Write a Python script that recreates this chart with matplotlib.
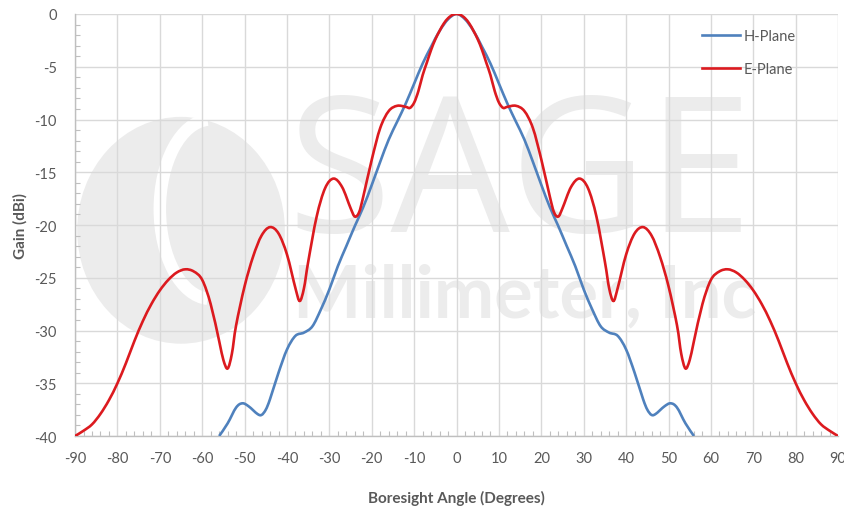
import matplotlib.pyplot as plt
from matplotlib.lines import Line2D
from matplotlib.patches import Arc, Ellipse, PathPatch
from matplotlib.path import Path
from matplotlib.ticker import MultipleLocator

# E-plane pattern (deg, dBi)
e_angle = [-90, -88, -86, -84, -82, -80, -78, -76, -74, -72, -70, -68, -66, -64, -62, -60,
           -58, -56, -55, -54, -53, -52, -50, -48, -46, -44, -42, -40, -38, -37, -36, -35,
           -33, -31, -29, -27, -25, -24, -23, -22, -20, -18, -16, -14, -12, -11, -10, -9,
           -8, -7, -6, -5, -4, -3, -2, -1, 0,
           1, 2, 3, 4, 5, 6, 7, 8, 9, 10, 11, 12, 14, 16, 18, 20, 22, 23, 24, 25, 27,
           29, 31, 33, 35, 36, 37, 38, 40, 42, 44, 46, 48, 50, 52, 53, 54, 55, 56, 58,
           60, 62, 64, 66, 68, 70, 72, 74, 76, 78, 80, 82, 84, 86, 88, 90]
e_gain = [-40.0, -39.5, -38.9, -37.9, -36.6, -35.0, -33.1, -31.0, -29.1, -27.5, -26.2, -25.2,
          -24.5, -24.2, -24.4, -25.2, -27.5, -31.0, -32.8, -33.6, -32.2, -29.5, -25.8, -23.0,
          -21.0, -20.2, -20.8, -22.8, -26.0, -27.2, -26.0, -23.5, -19.2, -16.5, -15.6, -16.4,
          -18.4, -19.2, -18.8, -17.3, -13.8, -10.8, -9.2, -8.7, -8.8, -8.9, -8.4, -7.3,
          -5.8, -4.6, -3.4, -2.4, -1.6, -0.9, -0.4, -0.1, 0.0,
          -0.1, -0.4, -0.9, -1.6, -2.4, -3.4, -4.6, -5.8, -7.3, -8.4, -8.9, -8.8, -8.7,
          -9.2, -10.8, -13.8, -17.3, -18.8, -19.2, -18.4, -16.4, -15.6, -16.5, -19.2,
          -23.5, -26.0, -27.2, -26.0, -22.8, -20.8, -20.2, -21.0, -23.0, -25.8, -29.5,
          -32.2, -33.6, -32.8, -31.0, -27.5, -25.2, -24.4, -24.2, -24.5, -25.2, -26.2,
          -27.5, -29.1, -31.0, -33.1, -35.0, -36.6, -37.9, -38.9, -39.5, -40.0]

# H-plane pattern (deg, dBi)
h_angle = [-56, -54, -52, -50.5, -49, -47, -46, -45, -44, -42, -40, -38, -36, -34, -32, -30,
           -28, -26, -24, -22, -20, -18, -16, -14, -12, -10, -8, -6, -4, -2, 0,
           2, 4, 6, 8, 10, 12, 14, 16, 18, 20, 22, 24, 26, 28, 30, 32, 34, 36, 38, 40,
           42, 44, 45, 46, 47, 49, 50.5, 52, 54, 56]
h_gain = [-40.0, -38.8, -37.3, -36.9, -37.2, -37.9, -38.0, -37.5, -36.5, -34.0, -31.8, -30.5,
          -30.2, -29.6, -28.0, -26.1, -23.9, -22.0, -20.1, -18.3, -16.2, -14.0, -11.9,
          -10.2, -8.5, -6.6, -4.7, -3.1, -1.6, -0.5, 0.0,
          -0.5, -1.6, -3.1, -4.7, -6.6, -8.5, -10.2, -11.9, -14.0, -16.2, -18.3, -20.1,
          -22.0, -23.9, -26.1, -28.0, -29.6, -30.2, -30.5, -31.8, -34.0, -36.5, -37.5,
          -38.0, -37.9, -37.2, -36.9, -37.3, -38.8, -40.0]

x_ticks = list(range(-90, 91, 10))
y_ticks = list(range(-40, 1, 5))

text_color = "#595959"
grid_color = "#d9d9d9"
mark_color = "#ececec"
h_color = "#4f81bd"
e_color = "#dc1a1f"


def smooth_path(xs, ys):
    """Smoothed polyline through the points (cubic Bezier segments, Catmull-Rom tangents)."""
    pts = list(zip(xs, ys))
    n = len(pts)
    verts = [pts[0]]
    codes = [Path.MOVETO]
    for i in range(n - 1):
        p0 = pts[max(i - 1, 0)]
        p1 = pts[i]
        p2 = pts[i + 1]
        p3 = pts[min(i + 2, n - 1)]
        c1 = (p1[0] + (p2[0] - p0[0]) / 6, p1[1] + (p2[1] - p0[1]) / 6)
        c2 = (p2[0] - (p3[0] - p1[0]) / 6, p2[1] - (p3[1] - p1[1]) / 6)
        verts += [c1, c2, p2]
        codes += [Path.CURVE4] * 3
    return Path(verts, codes)


plt.rcParams["font.family"] = ["Lato", "DejaVu Sans"]

fig = plt.figure(figsize=(8.45, 5.1), dpi=100)
ax = fig.add_axes([0.0888, 0.1431, 0.903, 0.8275])

# faint company mark behind the data
ax.add_patch(Ellipse((-65, -20.5), 49, 21.5, color=mark_color, zorder=0.1, lw=0))
ax.add_patch(Arc((-58, -18.5), 24, 17, theta1=95, theta2=265, color="white",
                 lw=9, zorder=0.15))
ax.text(15, -20.6, "SAGE", fontsize=136, color=mark_color, ha="center", va="baseline",
        family=["Open Sans", "DejaVu Sans"], zorder=0.1)
ax.text(16, -28.7, "Millimeter, Inc", fontsize=52, color=mark_color, ha="center",
        va="baseline", fontweight="bold", zorder=0.1)

ax.add_patch(PathPatch(smooth_path(h_angle, h_gain), facecolor="none", edgecolor=h_color,
                       lw=1.9, zorder=3))
ax.add_patch(PathPatch(smooth_path(e_angle, e_gain), facecolor="none", edgecolor=e_color,
                       lw=1.9, zorder=4))

ax.set_xlim(-90, 90)
ax.set_ylim(-40, 0)
ax.set_xticks(x_ticks)
ax.set_yticks(y_ticks)
ax.set_xticklabels([str(t) for t in x_ticks])
ax.set_yticklabels([str(t) for t in y_ticks])
ax.xaxis.set_minor_locator(MultipleLocator(2))
ax.yaxis.set_minor_locator(MultipleLocator(1))
ax.tick_params(which="major", length=0, labelsize=10.5, labelcolor=text_color)
ax.tick_params(axis="x", which="major", pad=11)
ax.tick_params(axis="y", which="major", pad=13)
ax.tick_params(which="minor", direction="in", length=3.5, width=0.8, color="#bfbfbf")
ax.tick_params(axis="x", which="minor", top=False)
ax.tick_params(axis="y", which="minor", right=False)

ax.grid(True, which="major", color=grid_color, lw=1.0)
ax.set_axisbelow(True)
for side in ["top", "right"]:
    ax.spines[side].set_visible(False)
for side in ["left", "bottom"]:
    ax.spines[side].set_color("#bfbfbf")
    ax.spines[side].set_linewidth(1.0)

ax.set_xlabel("Boresight Angle (Degrees)", fontsize=11, fontweight="bold",
              color=text_color, labelpad=18)
ax.set_ylabel("Gain (dBi)", fontsize=11, fontweight="bold", color=text_color,
              labelpad=5)

handles = [Line2D([], [], color=h_color, lw=1.9), Line2D([], [], color=e_color, lw=1.9)]
ax.legend(handles, ["H-Plane", "E-Plane"], loc="upper left", bbox_to_anchor=(0.822, 0.965),
          frameon=False, borderpad=0, borderaxespad=0, handlelength=2.6,
          handletextpad=0.25, labelspacing=1.35, fontsize=10.5, labelcolor=text_color)

fig.savefig("out.png", dpi=100)
